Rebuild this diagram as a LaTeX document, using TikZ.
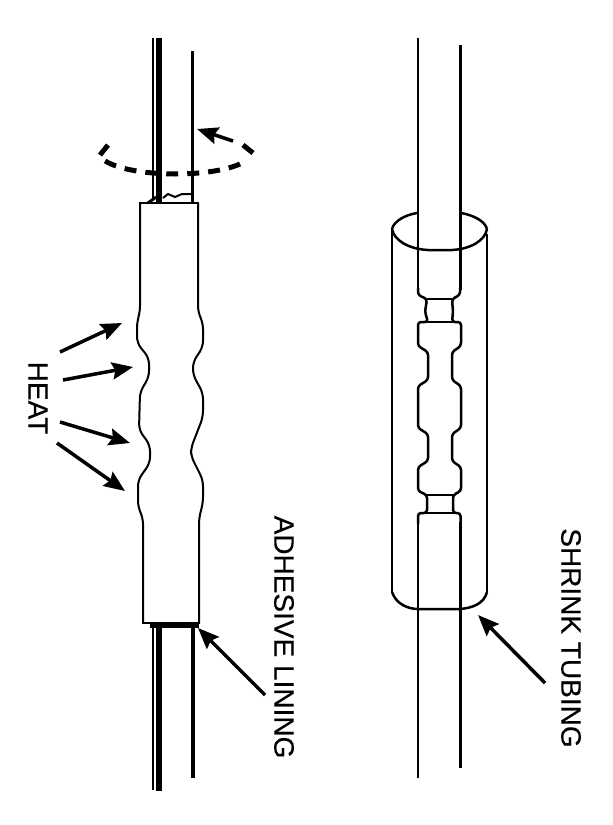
\documentclass[tikz,border=0pt]{standalone}
\usepackage{fontspec}
\setmainfont{Liberation Sans}[BoldFont={Liberation Sans}, BoldFeatures={FakeBold=0.25}]
\usetikzlibrary{arrows.meta}

\begin{document}
\begin{tikzpicture}[x=1pt, y=-1pt, line join=round,
    >={Stealth[length=21pt, width=17pt, inset=3pt]},
    wire/.style={line width=2pt},
    core/.style={line width=6.5pt},
    sleeve/.style={line width=2pt, rounded corners=6pt},
    joint/.style={line width=2.5pt, rounded corners=3pt},
    heatarrow/.style={->, line width=3.5pt},
    label/.style={rotate=-90, inner sep=0pt, font=\bfseries\fontsize{28}{30}\selectfont}]
    \useasboundingbox (0,0) rectangle (613,825);

    % left cable, above and below the sleeve
    \draw[wire] (153,38) -- (153,201);
    \draw[core] (159,38) -- (159,203);
    \draw[line width=3pt] (192.5,51) -- (192.5,203);
    \draw[wire] (153,628) -- (153,790);
    \draw[core] (159,628) -- (159,791);
    \draw[line width=3.5pt] (193,628) -- (193,778);
    \draw[line width=3pt] (148,203) -- (156,197);
    \draw[wire] (163,198) -- (168,194) -- (175,197) -- (182,194) -- (191,194);

    % sleeve outline with the shrunk bumps
    \draw[sleeve] (140,203) -- (140,312) -- (137,322) -- (137,343) -- (149,358) -- (149,377)
        -- (140,392) -- (139,430) -- (150,445) -- (150,463) -- (138,480) -- (138,507)
        -- (143,518) -- (143,623);
    \draw[sleeve] (198,203) -- (198,312) -- (203,323) -- (203,347) -- (193,362) -- (193,375)
        -- (203,393) -- (203,417) -- (191,448) -- (191,456) -- (203,480) -- (203,503)
        -- (199,518) -- (199,623);
    \draw[wire] (139,203) -- (199,203);
    \draw[wire] (142,623) -- (200,623);
    \draw[line width=5pt] (150,625.5) -- (199,625.5);

    % turning direction
    \draw[line width=5pt, dash pattern=on 12pt off 9pt]
        plot[smooth, domain=156:24, samples=30] ({175.5+77*cos(\x)},{152+22*sin(\x)});
    \draw[line width=5pt] (108,145) -- (100,155);
    \draw[line width=5pt] (243,145) -- (253,153);
    \coordinate (turnA) at (233,141);
    \coordinate (turnB) at (197,129);
    \draw[heatarrow] (turnA) -- (turnB);

    % heat arrows
    \coordinate (h1a) at (60,352);
    \coordinate (h1b) at (122,323);
    \coordinate (h2a) at (63,380);
    \coordinate (h2b) at (133,367);
    \coordinate (h3a) at (60,422);
    \coordinate (h3b) at (130,443);
    \coordinate (h4a) at (57,443);
    \coordinate (h4b) at (125,491);
    \draw[heatarrow] (h1a) -- (h1b);
    \draw[heatarrow] (h2a) -- (h2b);
    \draw[heatarrow] (h3a) -- (h3b);
    \draw[heatarrow] (h4a) -- (h4b);
    \node[label] (heat) at (38,398) {HEAT};

    \coordinate (adhA) at (265,695);
    \coordinate (adhB) at (198,628);
    \draw[heatarrow] (adhA) -- (adhB);
    \node[label] (adhesive) at (284,637) {ADHESIVE LINING};

    % right cable
    \draw[wire] (418,38) -- (418,290);
    \draw[line width=3pt] (460,45) -- (460,290);
    \draw[wire] (418,522) -- (418,778);
    \draw[line width=3pt] (460.5,522) -- (460.5,768);

    % joint inside the tubing
    \draw[joint] (418,288) -- (418,295) -- (427,299) -- (425,312) -- (428,322) -- (418,322)
        -- (418,346) -- (428,352) -- (428,380) -- (418,386)
        -- (418,428) -- (428,434) -- (428,461) -- (418,467)
        -- (418,491) -- (427,495) -- (427,513) -- (418,513) -- (418,524);
    \draw[joint] (460,288) -- (460,295) -- (452,299) -- (453,312) -- (452,322) -- (461,322)
        -- (461,346) -- (452,352) -- (452,380) -- (461,386)
        -- (461,428) -- (452,434) -- (452,461) -- (461,467)
        -- (461,491) -- (453,495) -- (453,513) -- (460.5,513) -- (460.5,524);
    \draw[joint] (427,299) -- (452,299);
    \draw[joint] (423,322) -- (456,322);
    \draw[wire] (427,495) -- (453,495);
    \draw[joint] (423,513) -- (456,513);

    % shrink tubing
    \draw[wire] (392,229) -- (392,592);
    \draw[wire] (487,234) -- (487,592);
    \draw[line width=2.5pt] (392,592) .. controls (396,604) and (408,609) .. (418,609) -- (460,609)
        .. controls (472,608) and (484,604) .. (487,592);
    \draw[line width=2.5pt] (392,229) .. controls (394,240) and (408,249) .. (428,250) -- (452,250)
        .. controls (470,249) and (485,241) .. (487,229);
    \draw[line width=2.5pt] (392,229) .. controls (394,221) and (405,215) .. (417,213);
    \draw[line width=2.5pt] (461,213) .. controls (473,215) and (485,221) .. (487,229);

    \coordinate (shrA) at (545,683);
    \coordinate (shrB) at (478,615);
    \draw[heatarrow] (shrA) -- (shrB);
    \node[label] (shrink) at (571,638) {SHRINK TUBING};
\end{tikzpicture}
\end{document}
